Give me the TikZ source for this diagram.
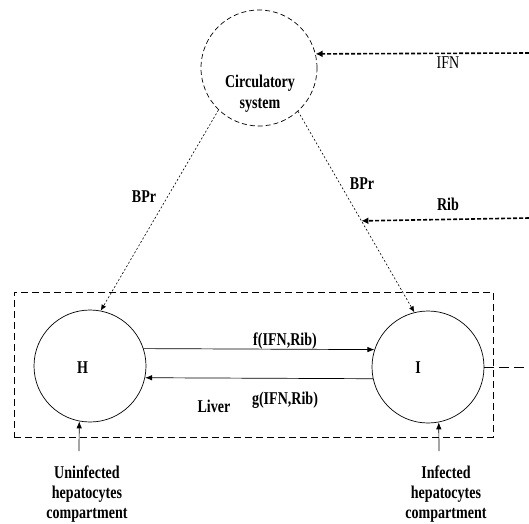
\documentclass[tikz,border=0pt]{standalone}
\usepackage{fontspec}
\setmainfont{Liberation Serif}[FakeStretch=0.78]
\usetikzlibrary{arrows.meta,calc}

\begin{document}
\begin{tikzpicture}[x=1pt,y=-1pt,
  lbl/.style={font=\fontsize{18}{21}\selectfont\bfseries, inner sep=0pt, anchor=base},
  cell/.style={draw, circle, line width=0.7pt, minimum size=112pt, inner sep=0pt},
  flux/.style={-{Latex[length=7pt,width=5.5pt]}, line width=0.7pt},
  bpr/.style={-{Latex[length=6pt,width=5pt]}, line width=0.6pt, dash pattern=on 2pt off 2pt},
  drug/.style={-{Latex[length=7pt,width=7pt]}, line width=1.6pt, dash pattern=on 4pt off 2pt}]
\useasboundingbox (0,0) rectangle (529,523);

% compartments
\node [draw, circle, line width=0.7pt, dash pattern=on 5pt off 3pt, minimum size=116pt] (circ) at (259,68) {};
\node [lbl, align=center] (circtxt) at (260,108) {Circulatory\\system};
\node [draw, line width=0.8pt, dash pattern=on 7pt off 4pt, minimum width=479pt, minimum height=145pt] (liver) at (253.5,364.5) {};
\node [cell] (H) at (90,366) {};
\node [cell] (I) at (428,367) {};
\node [lbl] (Htxt) at (82.5,373) {H};
\node [lbl] (Itxt) at (418,373) {I};
\node [lbl] (livertxt) at (214,412) {Liver};

% blood to liver
\draw[bpr] (circ.-134) -- (H.79);
\draw[bpr] (circ.-48) -- (I.104);
\node [lbl] (bprH) at (144,202) {BPr};
\node [lbl] (bprI) at (362,189) {BPr};

% drugs
\coordinate (ifnin) at (529,53);
\coordinate (ribin) at (529,218);
\coordinate (ribon) at ($(circ.-48)!0.545!(I.104)$);
\draw[drug] (ifnin) -- (circ.14);
\draw[drug] (ribin) -- (ribon);
\node [lbl, font=\fontsize{18}{21}\selectfont] (ifntxt) at (448,68) {IFN};
\node [lbl] (ribtxt) at (448,210) {Rib};

% infection and cure
\draw[flux] (H.18) -- (I.162);
\draw[flux] (I.192) -- (H.-12);
\node [lbl] (ftxt) at (285,345) {f(IFN,Rib)};
\node [lbl] (gtxt) at (285,404) {g(IFN,Rib)};

\coordinate (Iout) at (529,367);
\draw[line width=0.8pt, dash pattern=on 10pt off 5pt] (I.east) -- (Iout);

% sources
\coordinate (Hsrc) at (79,451);
\coordinate (Isrc) at (439,451);
\draw[flux] (Hsrc) -- (H.-101);
\draw[flux] (Isrc) -- (I.-79);
\node [lbl, align=center, font=\fontsize{18}{20}\selectfont\bfseries] (Hcomp) at (87,518) {Uninfected\\hepatocytes\\compartment};
\node [lbl, align=center, font=\fontsize{18}{20}\selectfont\bfseries] (Icomp) at (446,518) {Infected\\hepatocytes\\compartment};

\end{tikzpicture}
\end{document}
